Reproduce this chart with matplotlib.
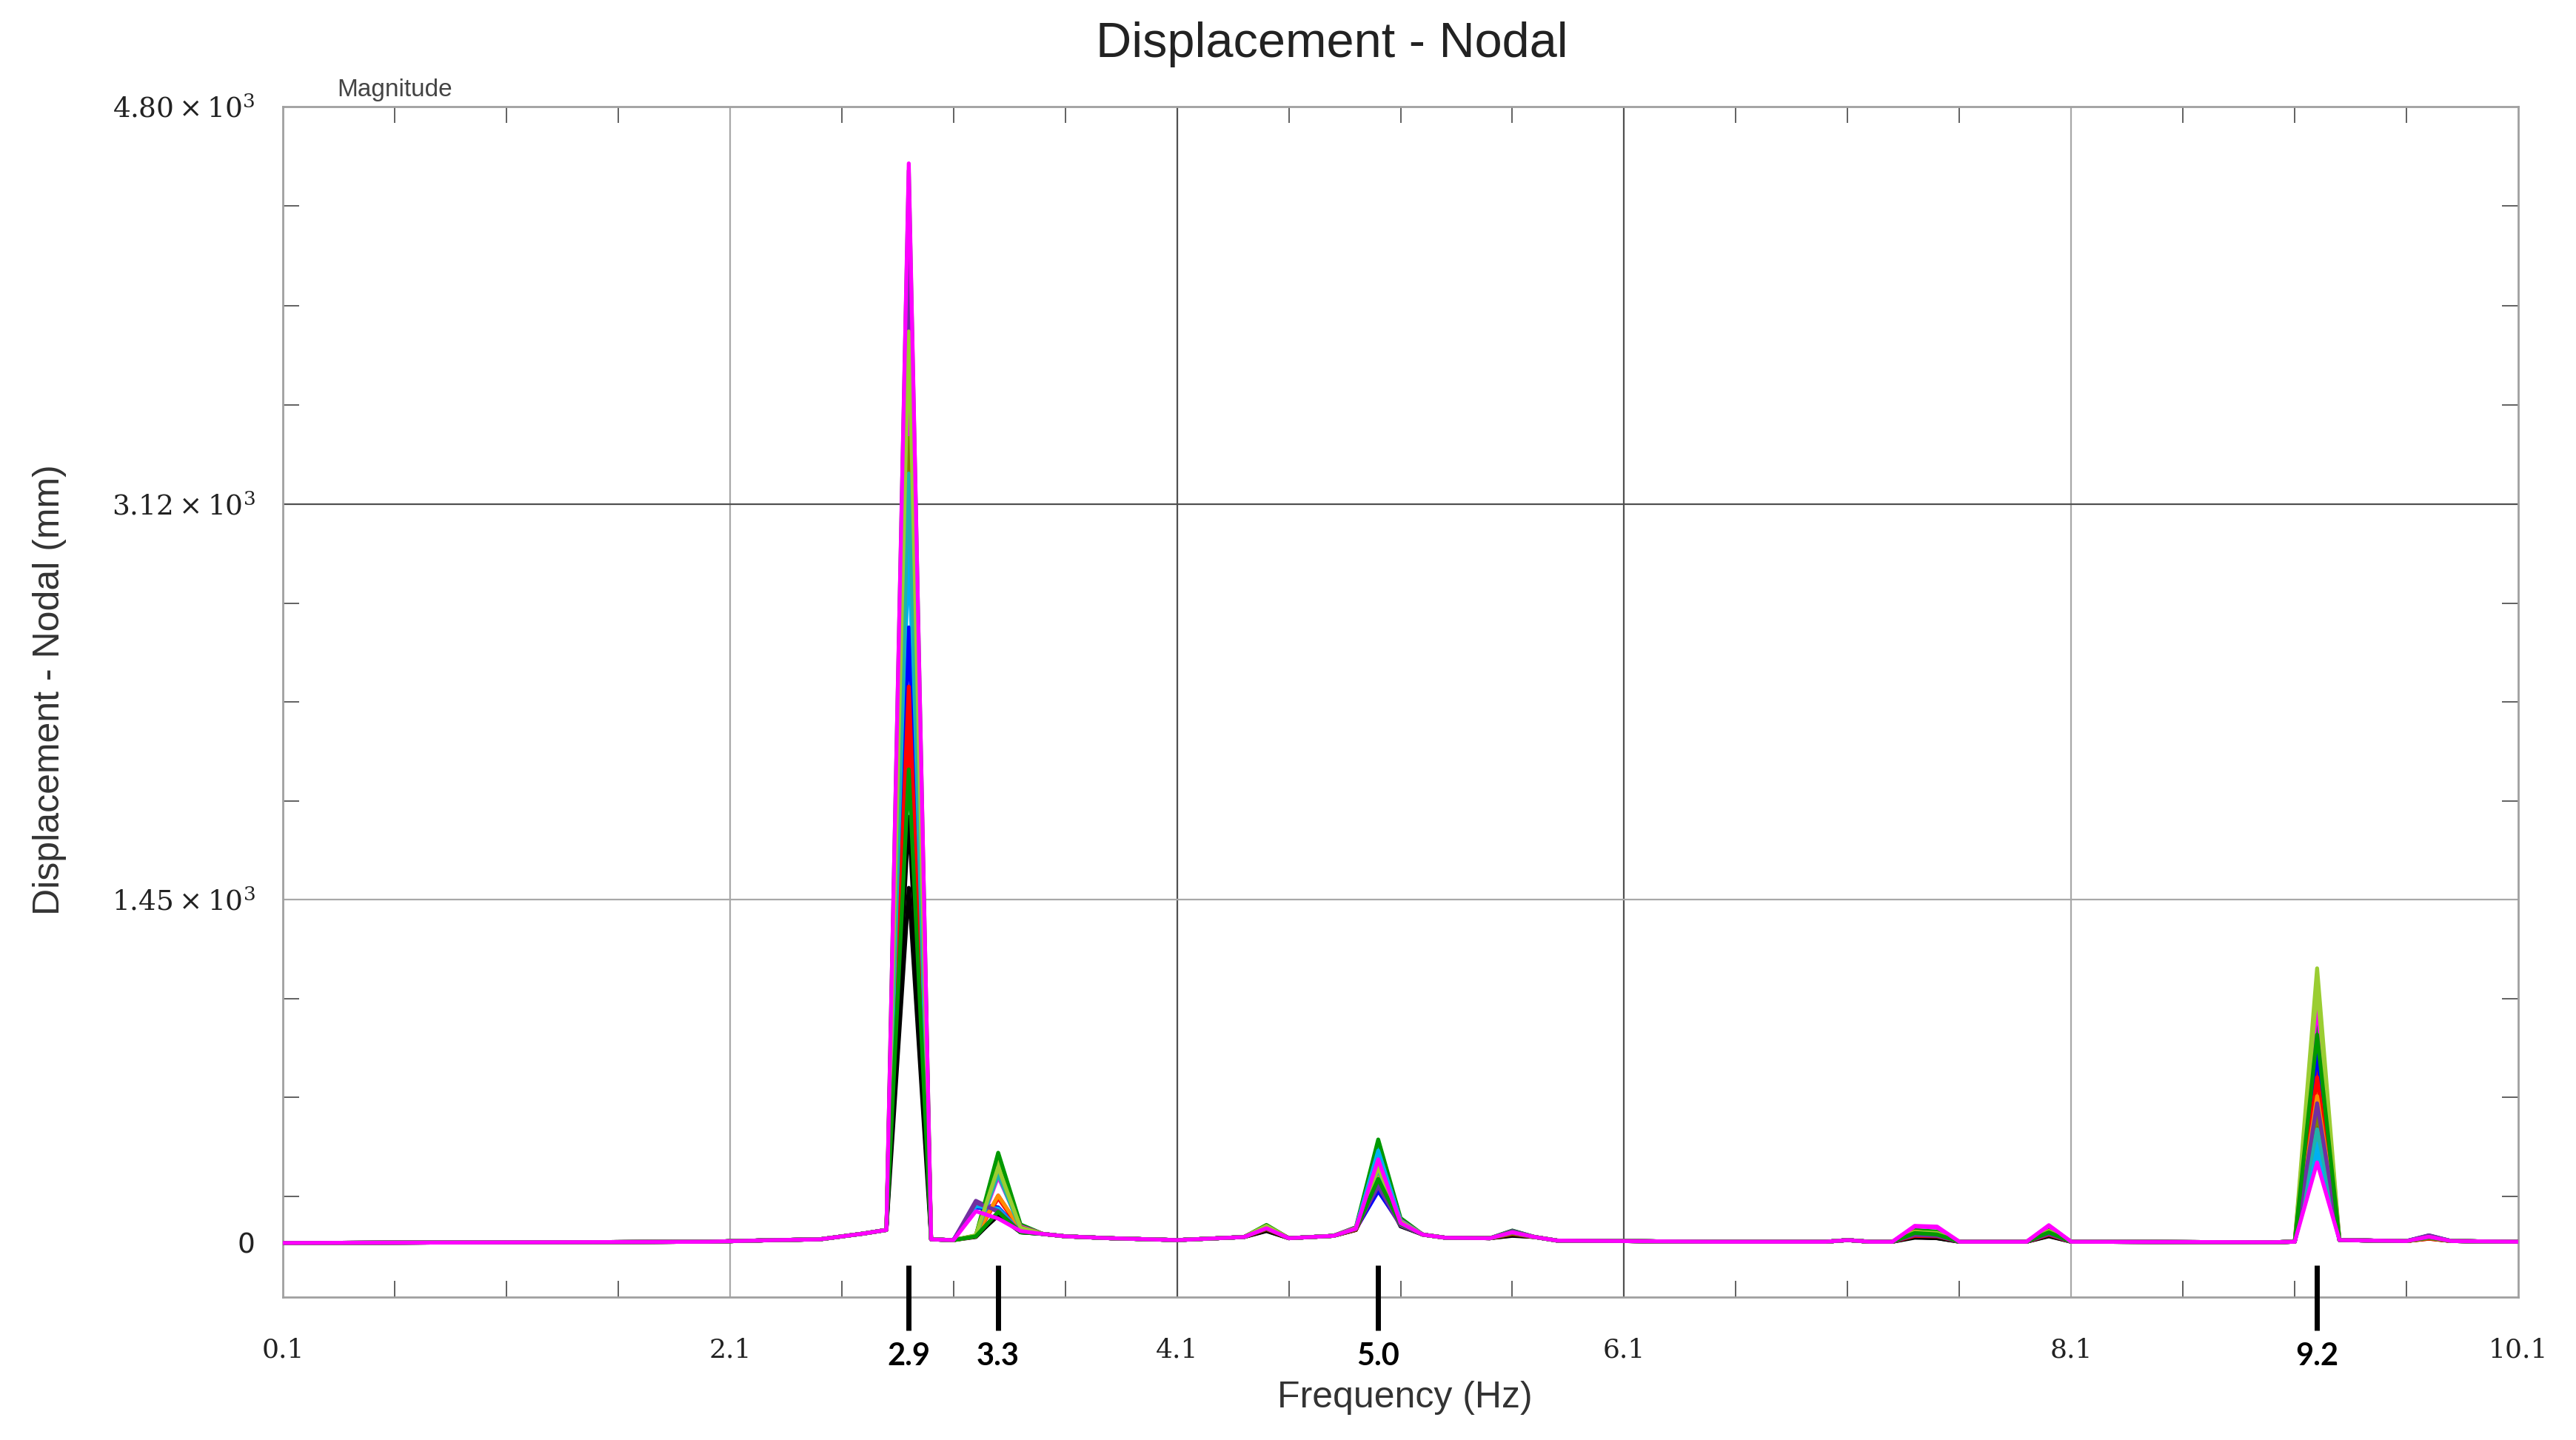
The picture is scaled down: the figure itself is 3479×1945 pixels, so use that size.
import numpy as np
import matplotlib.pyplot as plt

plt.rcParams['mathtext.fontset'] = 'dejavuserif'

# ── Data ──────────────────────────────────────────────────────────────────────
freq = [0.1, 1.0, 2.0, 2.3, 2.5, 2.7, 2.8, 2.9, 3.0, 3.1, 3.2, 3.3, 3.4, 3.5,
        3.6, 3.8, 4.1, 4.4, 4.5, 4.6, 4.7, 4.8, 4.9, 5.0, 5.1, 5.2, 5.3, 5.5,
        5.6, 5.7, 5.8, 6.5, 7.0, 7.1, 7.2, 7.3, 7.4, 7.5, 7.6, 7.9, 8.0, 8.1,
        9.0, 9.1, 9.2, 9.3, 9.6, 9.7, 9.8, 10.1]

# shared low-level response; entries at peak frequencies are replaced per node
background = [0, 2, 5, 12, 15, 40, 55, 0, 15, 12, 0, 0, 0, 38,
              28, 20, 12, 25, 0, 20, 25, 30, 0, 0, 0, 35, 22, 20,
              0, 25, 10, 5, 5, 12, 5, 5, 0, 0, 5, 5, 0, 5,
              3, 5, 0, 12, 8, 0, 8, 5]

colors = ['#000000', '#0000ff', '#ff0000', '#00b0f0', '#ff8c00', '#808000',
          '#20b2aa', '#7030a0', '#9acd32', '#009900', '#ff00ff',
          '#000000', '#0000ff', '#ff0000', '#00b0f0', '#ff8c00', '#808000',
          '#20b2aa', '#7030a0', '#9acd32', '#009900', '#ff00ff']

p29 = [1500, 2050, 2200, 2950, 4340, 3660, 3690, 4240, 4110, 4530, 3500,
       1800, 2600, 2350, 3100, 3950, 3400, 3250, 4150, 3850, 2000, 4560]
p32 = [25, 165, 30, 160, 30, 28, 30, 178, 32, 30, 28,
       30, 150, 28, 155, 30, 28, 30, 170, 32, 28, 134]
p33 = [120, 150, 190, 140, 355, 330, 300, 131, 340, 381, 280,
       115, 140, 200, 145, 200, 310, 290, 135, 320, 131, 103]
p34 = [45, 50, 55, 50, 72, 68, 62, 48, 66, 78, 70,
       45, 50, 55, 50, 60, 66, 60, 48, 64, 45, 50]
p45 = [50, 60, 55, 65, 72, 70, 68, 72, 74, 76, 70,
       52, 62, 58, 66, 70, 68, 66, 70, 72, 60, 62]
p49 = [55, 58, 56, 62, 64, 60, 62, 66, 63, 66, 64,
       55, 58, 56, 62, 62, 60, 60, 64, 62, 58, 60]
p50 = [260, 255, 235, 405, 300, 280, 320, 222, 330, 437, 380,
       265, 219, 250, 390, 290, 270, 310, 240, 320, 270, 353]
p51 = [70, 80, 78, 95, 88, 82, 90, 75, 92, 105, 95,
       72, 82, 78, 92, 85, 80, 88, 74, 90, 80, 84]
p56 = [30, 40, 35, 48, 45, 42, 46, 52, 46, 52, 48,
       32, 42, 38, 48, 44, 40, 44, 50, 45, 45, 45]
p74 = [25, 45, 35, 40, 50, 45, 42, 35, 48, 55, 70,
       22, 40, 30, 38, 48, 44, 40, 34, 46, 42, 72]
p75 = [20, 35, 30, 35, 40, 38, 40, 30, 45, 48, 65,
       20, 32, 28, 34, 38, 36, 38, 30, 42, 36, 69]
p80 = [30, 45, 35, 48, 55, 50, 48, 40, 52, 60, 72,
       28, 42, 35, 45, 50, 48, 46, 38, 50, 45, 75]
p92 = [480, 853, 765, 375, 656, 572, 460, 600, 1160, 947, 1010,
       500, 800, 700, 420, 620, 540, 480, 590, 1080, 880, 340]
p97 = [20, 30, 18, 28, 22, 20, 24, 32, 25, 24, 26,
       20, 30, 18, 28, 22, 20, 24, 32, 25, 24, 26]

peaks = {2.9: p29, 3.2: p32, 3.3: p33, 3.4: p34, 4.5: p45, 4.9: p49,
         5.0: p50, 5.1: p51, 5.6: p56, 7.4: p74, 7.5: p75, 8.0: p80,
         9.2: p92, 9.7: p97}

y_ticks = [0, 1450, 3120, 4800]
y_labels = ['0', r'$1.45\times10^{3}$', r'$3.12\times10^{3}$', r'$4.80\times10^{3}$']
y_minor = [197.5, 615, 1032.5, 1867.5, 2285, 2702.5, 3540, 3960, 4380]
x_ticks = [0.1, 2.1, 4.1, 6.1, 8.1, 10.1]
x_minor = [0.6, 1.1, 1.6, 2.6, 3.1, 3.6, 4.6, 5.1, 5.6, 6.6, 7.1, 7.6, 8.6, 9.1, 9.6]
marked = [2.9, 3.3, 5.0, 9.2]

table = np.tile(np.array(background, dtype=float), (len(colors), 1))
for f, vals in peaks.items():
    table[:, freq.index(f)] = vals

# ── Figure ────────────────────────────────────────────────────────────────────
fig = plt.figure(figsize=(34.79, 19.45), dpi=100)
ax = fig.add_axes([0.1098, 0.0992, 0.8678, 0.8268])

# grid lines (darker / lighter as in the screenshot)
vcol = ['#a8a8a8', '#505050', '#505050', '#a8a8a8']
for x, c in zip(x_ticks[1:-1], vcol):
    ax.axvline(x, color=c, lw=1.6, zorder=1)
for y, c in zip(y_ticks[1:3], ['#a8a8a8', '#505050']):
    ax.axhline(y, color=c, lw=1.6, zorder=1)

for row, c in zip(table, colors):
    ax.plot(freq, row, color=c, lw=3.8, zorder=3)

ax.set_xlim(0.1, 10.1)
ax.set_ylim(-229, 4800)

ax.set_xticks(x_ticks)
ax.set_xticklabels([f'{v:.1f}' for v in x_ticks], family='DejaVu Serif',
                   fontsize=26, color='#222222')
ax.set_xticks(x_minor, minor=True)
ax.set_yticks(y_ticks)
ax.set_yticklabels(y_labels, fontsize=27, color='#222222')
ax.set_yticks(y_minor, minor=True)

ax.tick_params(axis='x', which='major', length=0, pad=39)
ax.tick_params(axis='y', which='major', length=0, pad=27)
ax.tick_params(which='minor', direction='in', length=16, width=1.3,
               color='#555555', top=True, right=True)
for sp in ax.spines.values():
    sp.set_color('#a0a0a0')
    sp.set_linewidth(2)

# highlighted resonance frequencies
tr = ax.get_xaxis_transform()
for f in marked:
    ax.plot([f, f], [0.027, -0.028], transform=tr, color='black', lw=5,
            solid_capstyle='butt', clip_on=False, zorder=5)
    ax.text(f, -0.05, f'{f:.1f}', transform=tr, ha='center', va='center',
            fontsize=30, fontweight='bold', family='Lato', color='black')

fig.text(0.517, 0.969, 'Displacement - Nodal', ha='center', va='center',
         fontsize=48, family='Liberation Sans', color='#222222')
fig.text(0.5453, 0.0293, 'Frequency (Hz)', ha='center', va='center',
         fontsize=36, family='Liberation Sans', color='#333333')
fig.text(0.0193, 0.521, 'Displacement - Nodal (mm)', ha='center', va='center',
         rotation=90, fontsize=36, family='Liberation Sans', color='#333333')
fig.text(0.1308, 0.9373, 'Magnitude', ha='left', va='center',
         fontsize=24, family='Liberation Sans', color='#444444')

fig.savefig('out.png', dpi=100, facecolor='white')
